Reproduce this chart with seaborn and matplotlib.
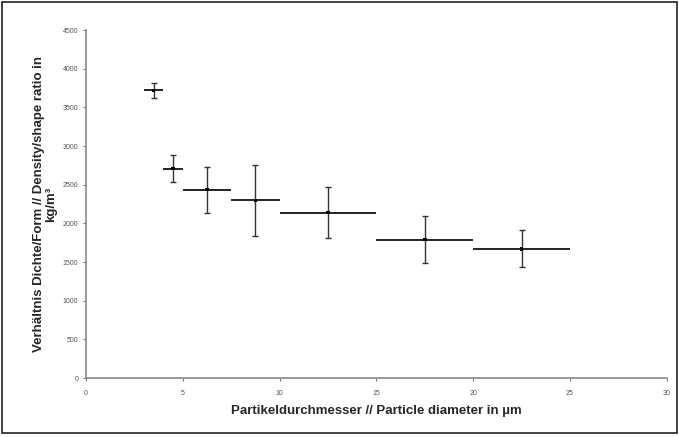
import matplotlib
matplotlib.use("Agg")
import matplotlib.pyplot as plt
import seaborn as sns
import pandas as pd
from matplotlib.patches import Rectangle

# values
diameter = [3.5, 4.5, 6.25, 8.75, 12.5, 17.5, 22.5]
ratio = [3720, 2710, 2435, 2300, 2140, 1790, 1670]
ratio_err = [100, 175, 300, 460, 330, 300, 240]
diam_lo = [0.5, 0.5, 1.25, 1.25, 2.5, 2.5, 2.5]
diam_hi = [0.5, 0.5, 1.25, 1.25, 2.5, 2.5, 2.5]

df = pd.DataFrame({"d": diameter, "r": ratio})

sns.set_style("white")
plt.rcParams["font.family"] = ["Liberation Sans", "DejaVu Sans"]

fig = plt.figure(figsize=(6.79, 4.37), dpi=100)
ax = fig.add_axes([0.1267, 0.135, 0.8553, 0.796])

ax.errorbar(df["d"], df["r"], xerr=[diam_lo, diam_hi], fmt="none",
            ecolor="#222222", elinewidth=1.4, capsize=0)
ax.errorbar(df["d"], df["r"], yerr=ratio_err, fmt="none",
            ecolor="#333333", elinewidth=1.0, capsize=2.5, capthick=1.0)
sns.scatterplot(data=df, x="d", y="r", ax=ax, color="black", s=6,
                marker="s", edgecolor="none", zorder=5)

ax.set_xlim(0, 30)
ax.set_ylim(0, 4500)
ax.set_xticks(range(0, 31, 5))
ax.set_yticks(range(0, 4501, 500))
ax.tick_params(axis="both", labelsize=5, colors="#777777", length=2.5,
               direction="out", width=0.8, labelcolor="#555555")
ax.tick_params(axis="x", pad=6)
ax.tick_params(axis="y", pad=3)
ax.tick_params(left=True, bottom=True)
for side in ["top", "right"]:
    ax.spines[side].set_visible(False)
for side in ["left", "bottom"]:
    ax.spines[side].set_color("#888888")
    ax.spines[side].set_linewidth(1.2)

ax.set_xlabel("Partikeldurchmesser // Particle diameter in µm",
              fontsize=9.5, fontweight="bold", labelpad=6)
ax.set_ylabel("Verhältnis Dichte/Form // Density/shape ratio in\nkg/m³",
              fontsize=9.5, fontweight="bold", labelpad=4, linespacing=1.0)

fig.patches.append(Rectangle((0.003, 0.01), 0.994, 0.985, transform=fig.transFigure,
                             fill=False, edgecolor="#222222", linewidth=1.2))

fig.savefig("out.png", dpi=100)
